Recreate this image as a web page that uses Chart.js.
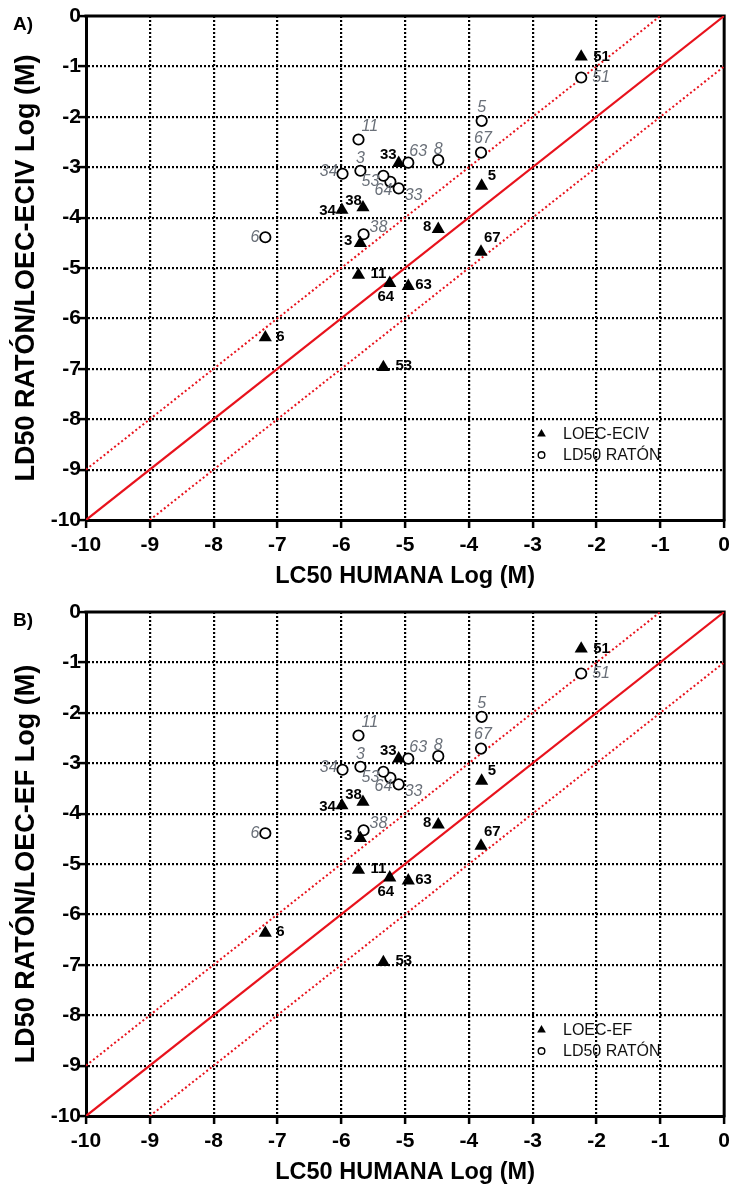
<!DOCTYPE html>
<html>
<head>
<meta charset="utf-8">
<script src="https://cdn.jsdelivr.net/npm/chart.js@4.4.1/dist/chart.umd.min.js"></script>
<style>
  html, body { margin: 0; padding: 0; background: #fff; }
  body { width: 735px; height: 1189px; position: relative; overflow: hidden; }
  .panel { position: absolute; left: 0; width: 735px; height: 594px; }
  .tag { position: absolute; left: 13px; font: bold 19px "Liberation Sans", Arial, sans-serif; color: #000; }
</style>
</head>
<body>
<div class="panel" style="top:0px"><canvas id="chartA" width="735" height="594"></canvas></div>
<div class="tag" style="top:13px">A)</div>
<div class="panel" style="top:596px"><canvas id="chartB" width="735" height="594"></canvas></div>
<div class="tag" style="top:609px">B)</div>
<script>
// ---------------- DATA ----------------
const xTickValues = [-10, -9, -8, -7, -6, -5, -4, -3, -2, -1, 0];

// LOEC (triangles) compound ids and human LC50 (x)
const loecIds = ['51', '5', '8', '67', '33', '38', '34', '3', '11', '64', '63', '53', '6'];
const loecX   = [-2.24, -3.80, -4.48, -3.81, -5.10, -5.66, -5.99, -5.70, -5.73, -5.24, -4.95, -5.34, -7.19];
// Panel A: LOEC-ECIV (y)
const loecEcivY = [-0.81, -3.37, -4.23, -4.68, -2.92, -3.80, -3.85, -4.51, -5.14, -5.30, -5.36, -6.97, -6.38];
// Panel B: LOEC-EF (y)
const loecEfY   = [-0.73, -3.35, -4.22, -4.64, -2.91, -3.77, -3.84, -4.49, -5.12, -5.27, -5.33, -6.95, -6.37];

// LD50 RATÓN (circles)
const ld50Ids = ['51', '5', '67', '8', '63', '33', '64', '53', '3', '11', '34', '38', '6'];
const ld50X   = [-2.24, -3.80, -3.81, -4.48, -4.95, -5.10, -5.23, -5.34, -5.70, -5.73, -5.98, -5.65, -7.19];
const ld50Y   = [-1.22, -2.08, -2.71, -2.86, -2.91, -3.42, -3.29, -3.17, -3.07, -2.45, -3.13, -4.33, -4.39];

// Reference lines: identity and +/- 1 log unit
const identX = [-10, 0],  identY = [-10, 0];
const upperX = [-10, -1], upperY = [-9, 0];
const lowerX = [-9, 0],   lowerY = [-10, -1];

// ---------------- LABEL PLACEMENT (px offsets from marker, alignment) ----------------
const loecLabelPos = [
  [12, 0, 'left'], [6, -10, 'left'], [-7, -2, 'right'], [3, -14, 'left'], [-2, -8, 'right'],
  [-1, -7, 'right'], [-6, 1, 'right'], [-8, -2, 'right'], [12, -1, 'left'], [-4, 14, 'center'],
  [7, -1, 'left'], [12, -1, 'left'], [11, -1, 'left']
];
const ld50LabelPos = [
  [11, 0, 'left'], [0, -13, 'center'], [2, -14, 'center'], [0, -11, 'center'], [1, -11, 'left'],
  [6, 7, 'left'], [-7, 9, 'center'], [-4, 6, 'right'], [0, -12, 'center'], [3, -13, 'left'],
  [-5, -2, 'right'], [6, -7, 'left'], [-6, 0, 'right']
];

const FONT = '"Liberation Sans", Arial, Helvetica, sans-serif';
const RED = 'rgb(232,18,28)';

function pts(xs, ys) { return xs.map((x, i) => ({ x: x, y: ys[i] })); }

const labelPlugin = {
  id: 'ptLabels',
  afterDatasetsDraw(chart) {
    const ctx = chart.ctx;
    chart.data.datasets.forEach((ds, i) => {
      if (!ds.ptLabels) return;
      const meta = chart.getDatasetMeta(i);
      ctx.save();
      ctx.font = ds.labelFont;
      ctx.fillStyle = ds.labelColor;
      ctx.textBaseline = 'middle';
      meta.data.forEach((el, j) => {
        const p = ds.labelPos[j];
        ctx.textAlign = p[2];
        ctx.fillText(ds.ptLabels[j], el.x + p[0], el.y + p[1]);
      });
      ctx.restore();
    });
  }
};

const framePlugin = {
  id: 'frame',
  beforeDatasetsDraw(chart) {
    const { ctx, chartArea: a } = chart;
    ctx.save();
    ctx.strokeStyle = '#000';
    ctx.lineWidth = 3;
    ctx.setLineDash([]);
    ctx.beginPath();
    ctx.moveTo(a.left - 1.5, a.top);
    ctx.lineTo(a.right, a.top);
    ctx.lineTo(a.right, a.bottom + 1.5);
    ctx.stroke();
    ctx.restore();
  }
};

const legendPlugin = {
  id: 'customLegend',
  afterDatasetsDraw(chart) {
    const { ctx, chartArea: a } = chart;
    const names = chart.options.plugins.customLegend.names;
    const x0 = a.left + 455.5, y0 = a.top + 418, gap = 21;
    ctx.save();
    ctx.fillStyle = '#000';
    const r = 5;
    ctx.beginPath();
    ctx.moveTo(x0, y0 - r);
    ctx.lineTo(x0 + r * 0.866, y0 + r * 0.5);
    ctx.lineTo(x0 - r * 0.866, y0 + r * 0.5);
    ctx.closePath();
    ctx.fill();
    ctx.strokeStyle = '#000';
    ctx.lineWidth = 1.4;
    ctx.beginPath();
    ctx.arc(x0, y0 + gap, 3.3, 0, Math.PI * 2);
    ctx.fillStyle = '#fff';
    ctx.fill();
    ctx.stroke();
    ctx.fillStyle = '#111';
    ctx.font = '16px ' + FONT;
    ctx.textAlign = 'left';
    ctx.textBaseline = 'middle';
    ctx.fillText(names[0], x0 + 21.5, y0 + 1);
    ctx.fillText(names[1], x0 + 21.5, y0 + gap + 1);
    ctx.restore();
  }
};

function makeChart(id, loecY, loecName, yTitle) {
  const ctx = document.getElementById(id);
  const gridOpts = {
    color: (c) => (c.tick && c.tick.value === 0) ? 'rgba(0,0,0,0)' : '#000',
    lineWidth: 2.2, tickLength: 8, tickColor: '#000', tickWidth: 2.5, tickBorderDash: []
  };
  return new Chart(ctx, {
    type: 'scatter',
    data: {
      datasets: [
        {
          label: loecName,
          data: pts(loecX, loecY),
          pointStyle: 'triangle',
          pointRadius: 7.6,
          pointHoverRadius: 7.6,
          backgroundColor: '#000',
          borderColor: '#000',
          borderWidth: 0,
          ptLabels: loecIds,
          labelPos: loecLabelPos,
          labelFont: 'bold 15px ' + FONT,
          labelColor: '#000'
        },
        {
          label: 'LD50 RATÓN',
          data: pts(ld50X, ld50Y),
          pointStyle: 'circle',
          pointRadius: 5.2,
          pointHoverRadius: 5.2,
          backgroundColor: '#fff',
          borderColor: '#000',
          borderWidth: 1.8,
          ptLabels: ld50Ids,
          labelPos: ld50LabelPos,
          labelFont: 'italic 16px ' + FONT,
          labelColor: '#6a7079'
        },
        {
          label: 'identity',
          data: pts(identX, identY),
          showLine: true,
          borderColor: RED,
          borderWidth: 2.2,
          pointRadius: 0,
          fill: false
        },
        {
          label: 'upper',
          data: pts(upperX, upperY),
          showLine: true,
          borderColor: RED,
          borderWidth: 2,
          borderDash: [2, 2.5],
          pointRadius: 0,
          fill: false
        },
        {
          label: 'lower',
          data: pts(lowerX, lowerY),
          showLine: true,
          borderColor: RED,
          borderWidth: 2,
          borderDash: [2, 2.5],
          pointRadius: 0,
          fill: false
        }
      ]
    },
    options: {
      responsive: false,
      animation: false,
      devicePixelRatio: 1,
      events: [],
      layout: { padding: { left: 0, right: 9, top: 16, bottom: 0 } },
      plugins: {
        legend: { display: false },
        tooltip: { enabled: false },
        customLegend: { names: [loecName, 'LD50 RATÓN'] }
      },
      scales: {
        x: {
          type: 'linear',
          min: -10, max: 0,
          afterBuildTicks: (s) => { s.ticks = xTickValues.map(v => ({ value: v })); },
          afterFit: (s) => { s.height = 74; },
          ticks: {
            autoSkip: false, maxRotation: 0, minRotation: 0,
            color: '#000', padding: 5,
            font: { family: FONT, size: 21, weight: 'bold', lineHeight: 1.2 }
          },
          grid: gridOpts,
          border: { display: true, color: '#000', width: 3, dash: [2, 2] },
          title: {
            display: true, text: 'LC50 HUMANA Log (M)', color: '#000',
            font: { family: FONT, size: 23.5, weight: 'bold', lineHeight: 1 },
            padding: { top: 0, bottom: 6 }
          }
        },
        y: {
          type: 'linear',
          min: -10, max: 0,
          afterBuildTicks: (s) => { s.ticks = xTickValues.map(v => ({ value: v })); },
          afterFit: (s) => { s.width = 86; },
          ticks: {
            autoSkip: false, color: '#000', padding: -3,
            font: { family: FONT, size: 21, weight: 'bold', lineHeight: 1.2 }
          },
          grid: gridOpts,
          border: { display: true, color: '#000', width: 3, dash: [2, 2] },
          title: {
            display: true, text: yTitle, color: '#000',
            font: { family: FONT, size: 27, weight: 'bold', lineHeight: 1 },
            padding: { top: 13, bottom: 0 }
          }
        }
      }
    },
    plugins: [framePlugin, labelPlugin, legendPlugin]
  });
}

makeChart('chartA', loecEcivY, 'LOEC-ECIV', 'LD50 RATÓN/LOEC-ECIV Log (M)');
makeChart('chartB', loecEfY, 'LOEC-EF', 'LD50 RATÓN/LOEC-EF Log (M)');
</script>
</body>
</html>
